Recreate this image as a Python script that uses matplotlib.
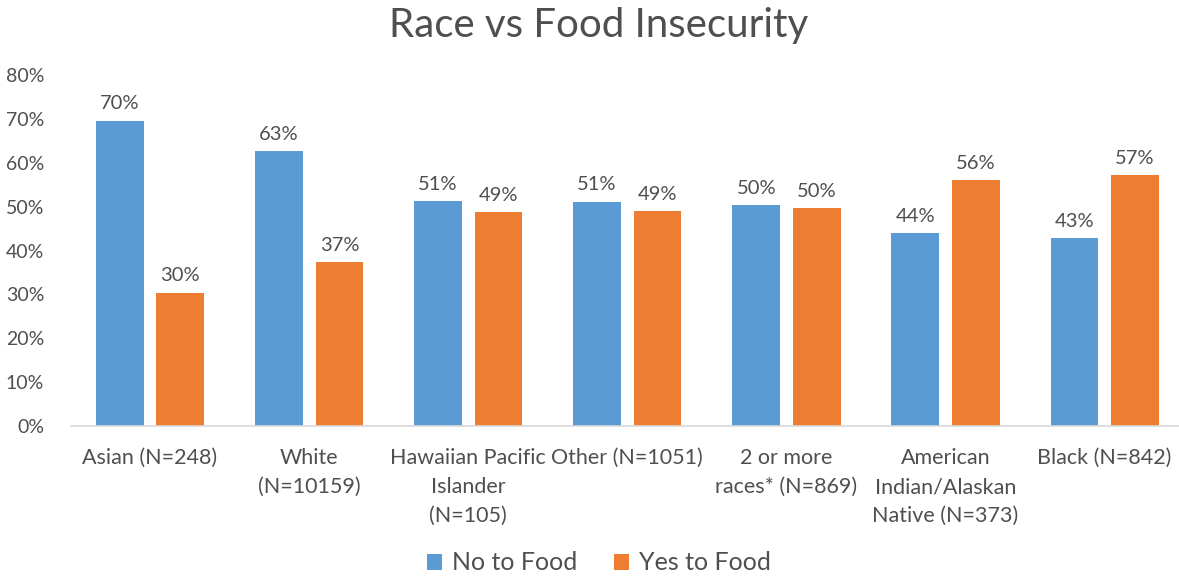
import matplotlib.pyplot as plt
import numpy as np

plt.rcParams['font.family'] = ['Lato', 'DejaVu Sans']

categories = [
    "Asian (N=248)",
    "White\n(N=10159)",
    "Hawaiian Pacific\nIslander\n(N=105)",
    "Other (N=1051)",
    "2 or more\nraces* (N=869)",
    "American\nIndian/Alaskan\nNative (N=373)",
    "Black (N=842)",
]
no_to_food = [69.6, 62.6, 51.3, 51.1, 50.4, 44.0, 42.8]
yes_to_food = [30.4, 37.4, 48.7, 48.9, 49.6, 56.0, 57.2]
y_ticks = [0, 10, 20, 30, 40, 50, 60, 70, 80]

BLUE = "#5B9BD5"
ORANGE = "#ED7D31"
TEXT = "#4F4F4F"

W, H = 1179, 577
fig = plt.figure(figsize=(W / 100, H / 100), dpi=100)
left_px, right_px, base_px, top_px = 70.5, 1179, 426, 75
group_px = 159.1
ax = fig.add_axes([left_px / W, (H - base_px) / H,
                   (right_px - left_px) / W, (base_px - top_px) / H])

x = np.arange(len(categories))
bw = 0.30
off = 0.19
b1 = ax.bar(x - off, no_to_food, bw, color=BLUE, label="No to Food")
b2 = ax.bar(x + off, yes_to_food, bw, color=ORANGE, label="Yes to Food")

for bars, vals in ((b1, no_to_food), (b2, yes_to_food)):
    for rect, v in zip(bars, vals):
        ax.annotate(f"{round(v)}%", (rect.get_x() + rect.get_width() / 2, v),
                    xytext=(0, 6), textcoords="offset points",
                    ha="center", va="bottom", fontsize=14.5, color=TEXT)

ax.set_xlim(-0.5, (right_px - left_px) / group_px - 0.5)
ax.set_ylim(0, 80)
ax.set_yticks(y_ticks)
ax.set_yticklabels([f"{t}%" for t in y_ticks])
ax.set_xticks(x)
ax.set_xticklabels(categories, fontsize=15.5, color=TEXT, linespacing=1.55)
ax.tick_params(axis="y", length=0, pad=19, labelsize=14, labelcolor=TEXT)
ax.tick_params(axis="x", length=0, pad=16)

for s in ("top", "right", "left"):
    ax.spines[s].set_visible(False)
ax.spines["bottom"].set_color("#D9D9D9")
ax.spines["bottom"].set_linewidth(1.2)

fig.text(0.508, 1 - 26 / H, "Race vs Food Insecurity", ha="center", va="center",
         fontsize=29, color=TEXT)

fig.legend(handles=[b1, b2], loc="center", bbox_to_anchor=(0.508, 1 - 563 / H),
           ncol=2, frameon=False, fontsize=18, labelcolor=TEXT,
           handlelength=0.6, handleheight=0.6, handletextpad=0.4, columnspacing=1.5)

fig.savefig("out.png", dpi=100, facecolor="white")
